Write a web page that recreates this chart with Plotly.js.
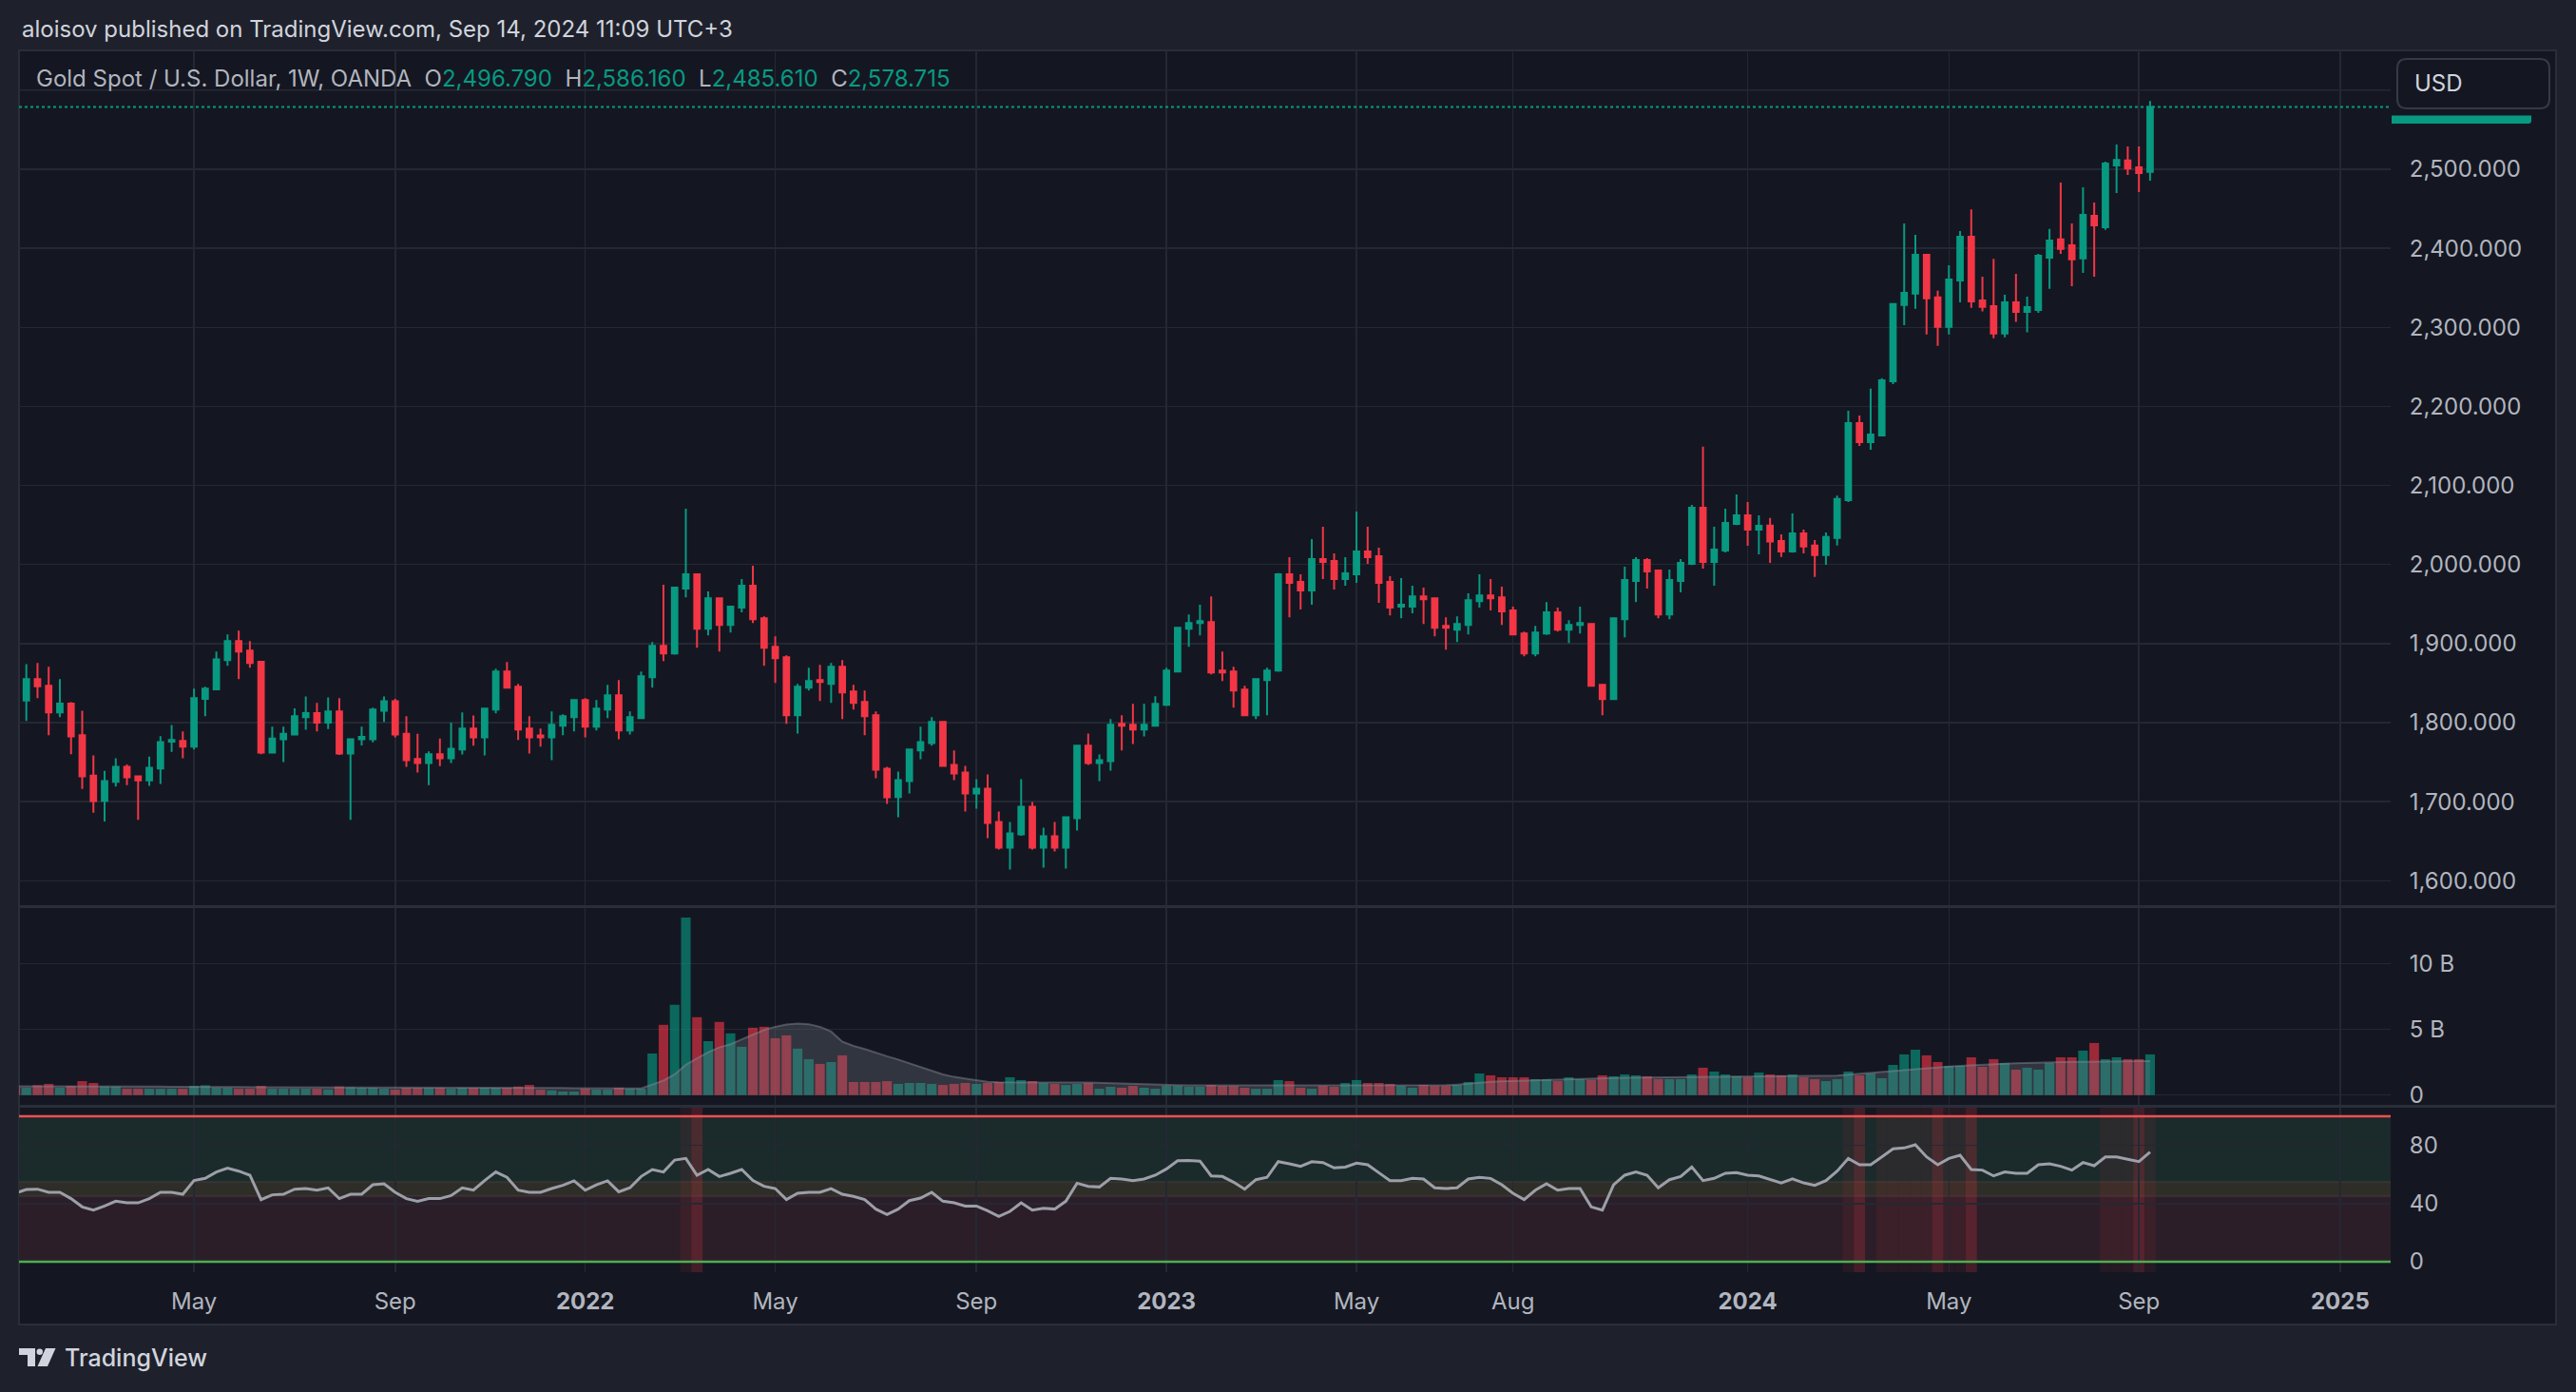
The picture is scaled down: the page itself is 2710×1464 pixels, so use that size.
<!DOCTYPE html>
<html>
<head>
<meta charset="utf-8">
<script src="https://cdn.plot.ly/plotly-3.0.1.min.js"></script>
<style>
html,body{margin:0;padding:0;background:#1e212c;overflow:hidden;}
#chart{width:2710px;height:1464px;}
</style>
</head>
<body>
<div id="chart"></div>
<script>
// ---------------- DATA (weekly OANDA XAUUSD, weeks starting 2021-01-11) ----------------
const firstWeek = '2021-01-11';

const open = [1849,
 1828,1855,1846.6,1813,1824,1784,1733,1701,1725,1744,
 1732,1727,1742,1776,1777,1769.5,1830,1842,1879,1903,
 1891,1877,1762,1779,1785,1807,1812,1800,1814,1761,
 1779,1779,1815,1827,1786,1754,1749,1760,1755,1766,
 1792.4,1781.5,1816.5,1864.7,1845.4,1792.4,1783.9,1781.5,1796,1806.8,
 1828.5,1794.8,1816.5,1834.5,1790,1805.6,1857.4,1897.2,1887.6,1969.5,
 1987.5,1918.9,1957.4,1923.7,1945.4,1973.1,1932.1,1896,1882.7,1809.2,
 1844.2,1853.8,1849,1870.7,1839.4,1826.1,1809.2,1741.8,1706,1726.1,
 1764.7,1774.3,1800.8,1746.6,1736.9,1710.4,1716.5,1674.3,1641.8,1658.6,
 1693.6,1641.8,1656.2,1641.8,1679.1,1770.7,1749,1751.4,1798.4,1797.2,
 1791.2,1796,1822.5,1864.7,1918.9,1926.1,1927.3,1865.9,1864.7,1841.8,
 1809.2,1853.8,1865.9,1987.5,1977.9,1967.1,2006.8,2004.4,1981.5,1987.6,
 2016.5,2010.4,1977.9,1946.6,1946.6,1959.8,1957.4,1922.5,1917.7,1923.7,
 1953.8,1961,1958.6,1941.8,1912.8,1887.6,1912.8,1939.4,1917.7,1923.7,
 1924.9,1847.8,1829.7,1930.9,1979.1,2005.6,1992.4,1936.9,1979.1,2000.8,
 2071.9,2003.2,2017.7,2051.4,2062.2,2044.2,2049.2,2029.8,2016.5,2039.3,
 2024,2012,2033.5,2081.5,2178.9,2154.8,2163.1,2231.9,2328.4,2342.8,
 2391.7,2337.9,2300.6,2359.4,2414.5,2334.1,2326.7,2292.3,2331.7,2319.7,
 2322.1,2388,2411.2,2403.7,2387.2,2441,2426.5,2504.8,2511,2502.3,
 2496.79];

const high = [1864,
 1874,1875.5,1870.7,1855,1826,1815,1758.6,1739,1755,1747,
 1732,1757,1783,1797,1789,1843,1845.5,1890,1911.6,1916.5,
 1903,1878,1795,1795,1818,1833,1825,1832,1831,1780,
 1795,1819,1833,1830,1808,1786,1763.5,1780,1800,1812.9,
 1809,1818,1868.3,1876.7,1849,1808,1792.4,1814,1810.4,1829.7,
 1830.9,1828.5,1847.8,1853.8,1814,1864.7,1902,1974.3,1972,2070.7,
 1988,1965.9,1958,1947.8,1981.5,1998.4,1934.5,1909.2,1885.1,1849,
 1869.5,1873.1,1875.5,1879.1,1847.8,1840.6,1814,1744.2,1738.2,1767.1,
 1794.8,1806.8,1802,1764.7,1745.4,1728.5,1734.5,1687.6,1674.3,1728.5,
 1699.6,1667.1,1674.3,1681,1771.9,1786.3,1759.8,1804.4,1809.2,1823.7,
 1823.7,1833.3,1869.5,1921.3,1936.9,1949,1959.8,1890,1870.7,1846.6,
 1856.2,1869.5,1989,2009.2,1987.5,2032.1,2047.8,2014.1,2009.2,2067.1,
 2047.8,2021.3,1985.1,1982.7,1973.1,1970.7,1958.6,1933.3,1934.5,1963.5,
 1987.6,1981.5,1971.9,1946.6,1915.3,1922.5,1952.6,1945.4,1929.7,1946.6,
 1926.1,1848.5,1933,1997.2,2009.2,2008,1993,1993.6,2006.8,2075.5,
 2149,2047.8,2070.7,2088.8,2079.1,2062.2,2058.8,2038.1,2064.6,2044.3,
 2031,2040.6,2087.3,2194.6,2188.4,2222.3,2235.6,2330.8,2431.5,2417,
 2393,2346.2,2378.5,2421.9,2449.3,2364,2386.7,2341.2,2367.7,2338.7,
 2392.9,2424.4,2483.2,2431.5,2477,2458,2509.7,2531.3,2528.8,2528.8,
 2586.16];

const low = [1808,
 1802,1831,1784,1807,1760,1716,1686,1675,1719,1721,
 1677,1720,1722.5,1763,1755,1766,1808,1841,1872,1855,
 1869.5,1760,1761,1750,1784,1791,1789,1792,1759,1677,
 1771,1775,1801,1781.5,1744,1737,1721,1745,1749,1759.8,
 1770.7,1758.6,1811.7,1843,1778,1761,1769.5,1752.6,1784,1788.8,
 1781.5,1790,1805.6,1779,1785,1805,1844.2,1877.9,1886,1958.6,
 1894.8,1910.4,1890,1914,1939.4,1926.1,1871.9,1850.2,1798.4,1786.3,
 1840.6,1827.3,1824.9,1804.4,1816.5,1784,1729.7,1697.2,1680.3,1710.4,
 1753.8,1770.7,1744,1727.3,1687.6,1691.2,1653.8,1639.4,1614.1,1657,
 1639.4,1616.5,1637,1615.3,1663.5,1746.6,1726.1,1739.4,1764.7,1773.1,
 1782.7,1795,1821,1864,1896,1910.4,1861,1852.6,1818.9,1808,
 1804.4,1809.2,1864.5,1933.3,1943,1949,1981.5,1968.3,1973.1,1976.7,
 2000.8,1951.4,1935.7,1932.1,1938.2,1924.9,1909.2,1892.4,1902,1911.6,
 1945.4,1941.8,1923.7,1910.4,1884,1884,1911,1915.3,1900.8,1912.8,
 1845.4,1809.2,1828.5,1908,1952.6,1969.5,1932.1,1930.9,1964.7,1999.5,
 1994.8,1973.1,2015.3,2050,2023.7,2012.9,2002,2009.5,2015,2014,
 1984.2,1999.6,2024,2079,2149.9,2145.3,2162,2228.1,2302.7,2323.4,
 2291,2276.6,2291,2331.7,2324.6,2320.1,2286.1,2287.4,2306.8,2293.6,
 2318.4,2348.6,2392.9,2351.9,2368.9,2364,2423.2,2469.9,2492.7,2471.2,
 2485.61];

const close = [1828,
 1855,1846,1812.8,1824,1782.7,1732,1700.8,1726,1744,1731,
 1727,1743,1775.5,1778,1769.5,1831,1843,1880,1903,1890,
 1875.5,1762,1780,1786,1808,1812,1800,1814,1761,1779,
 1782,1816.5,1827,1785,1752.6,1749,1760,1755,1767,1792.4,
 1781.5,1817.7,1864.7,1844.2,1791.2,1781.5,1781.5,1797.2,1808,1828.5,
 1794.8,1817.7,1834.5,1790,1806.8,1858.6,1897.2,1887.6,1970.7,1987.5,
 1918.9,1957.4,1923.7,1946.6,1973.1,1930.9,1894.8,1881.5,1809.2,1845.4,
 1852.6,1851.4,1870.7,1838.2,1824.9,1808,1740.6,1705.6,1727.3,1765.9,
 1775.5,1800.8,1745.4,1735.7,1710.4,1716.5,1673.1,1641.8,1659.8,1693.6,
 1641.8,1656.2,1641.8,1680.3,1770.7,1749,1752.6,1797.2,1796,1791.2,
 1797.2,1823.7,1865.9,1920.1,1926.1,1928.5,1863.5,1863.5,1840.6,1809.2,
 1855,1865.9,1987.5,1976.7,1967.1,2006.8,2003.2,1981.5,1988.8,2016.5,
 2009.2,1976.7,1945.4,1949,1959.8,1956.2,1920.1,1920.1,1924.9,1955,
 1961,1957.4,1940.6,1911.6,1887.6,1914.1,1939.4,1917.7,1923.7,1926.1,
 1846.6,1829.7,1932.1,1980.3,2005.6,1991.2,1936.9,1980.3,2002,2071.9,
 2003.2,2018.9,2052.6,2062.2,2044.2,2049,2029,2016.5,2039.3,2022.8,
 2012,2034.8,2082.8,2178.9,2154.8,2164.4,2233.1,2329.6,2343.7,2391.7,
 2336.6,2300.6,2360.6,2414.5,2332.9,2325.9,2292.3,2331.7,2319.7,2325.5,
 2390.5,2409.9,2399.2,2385.9,2442.2,2429,2507.2,2511.8,2501,2495.2,
 2578.715];

// volume, billions
const volume = [0.6,
 0.56,0.75,0.85,0.56,0.7,1.06,0.92,0.65,0.65,0.48,
 0.48,0.48,0.48,0.48,0.48,0.7,0.75,0.56,0.56,0.48,
 0.48,0.7,0.48,0.48,0.48,0.48,0.48,0.43,0.65,0.6,
 0.56,0.56,0.48,0.41,0.56,0.56,0.56,0.56,0.48,0.56,
 0.56,0.56,0.56,0.56,0.65,0.77,0.41,0.36,0.27,0.27,
 0.48,0.41,0.41,0.56,0.48,0.48,3.16,5.34,6.86,13.5,
 5.92,4.1,5.56,4.69,3.67,5.12,5.19,4.32,4.54,3.53,
 2.73,2.37,2.51,3.02,0.99,0.99,0.99,1.06,0.85,0.92,
 0.92,0.85,0.77,0.85,0.92,0.85,0.92,0.99,1.35,1.14,
 1.06,0.92,0.85,0.77,0.85,0.92,0.48,0.63,0.56,0.7,
 0.56,0.48,0.7,0.7,0.63,0.63,0.77,0.7,0.7,0.56,
 0.48,0.48,1.14,1.06,0.56,0.48,0.7,0.63,0.92,1.14,
 0.92,0.92,0.85,0.7,0.56,0.77,0.7,0.7,0.77,0.99,
 1.64,1.5,1.35,1.35,1.35,1.21,1.21,1.06,1.35,1.21,
 1.16,1.5,1.43,1.57,1.5,1.43,1.21,1.21,1.21,1.57,
 2.08,1.79,1.57,1.43,1.35,1.71,1.57,1.5,1.57,1.35,
 1.21,1.06,1.21,1.79,1.5,1.64,1.28,2.29,3.09,3.45,
 3.02,2.51,2.22,2.22,2.87,2.15,2.73,2.44,1.93,2.08,
 1.93,2.44,2.87,2.87,3.38,3.96,2.73,2.87,2.73,2.73,
 3.09];

// volume moving-average area
const volumeMA = [0.66,
 0.66,0.67,0.68,0.68,0.68,0.69,0.69,0.68,0.68,0.67,
 0.66,0.65,0.64,0.63,0.62,0.62,0.62,0.61,0.61,0.6,
 0.6,0.6,0.6,0.59,0.59,0.58,0.58,0.58,0.58,0.58,
 0.57,0.57,0.57,0.56,0.56,0.56,0.56,0.56,0.56,0.56,
 0.56,0.56,0.56,0.56,0.57,0.58,0.57,0.56,0.54,0.52,
 0.52,0.51,0.5,0.5,0.5,0.5,0.8,1.1,1.57,2.3,
 2.78,3.26,3.62,3.86,4.23,4.6,4.95,5.19,5.36,5.43,
 5.39,5.19,4.83,4.06,3.74,3.5,3.21,2.95,2.7,2.42,
 2.13,1.86,1.57,1.38,1.26,1.14,1.01,0.97,0.96,0.96,
 0.95,0.95,0.95,0.95,0.95,0.95,0.92,0.88,0.85,0.82,
 0.8,0.78,0.76,0.75,0.74,0.74,0.73,0.73,0.72,0.72,
 0.72,0.72,0.73,0.74,0.74,0.74,0.74,0.74,0.75,0.76,
 0.76,0.76,0.76,0.75,0.75,0.75,0.75,0.75,0.8,0.88,
 0.95,1.0,1.05,1.08,1.1,1.12,1.15,1.18,1.2,1.25,
 1.27,1.29,1.3,1.32,1.33,1.34,1.35,1.35,1.36,1.37,
 1.38,1.4,1.41,1.42,1.43,1.44,1.45,1.45,1.46,1.46,
 1.46,1.46,1.47,1.55,1.62,1.7,1.78,1.85,1.93,2.0,
 2.06,2.12,2.17,2.22,2.27,2.31,2.35,2.38,2.41,2.44,
 2.46,2.48,2.5,2.52,2.53,2.55,2.56,2.57,2.57,2.58,
 2.58];

const rsi = [47,
 49.7,49.9,47.7,47.7,43.4,37.7,35.5,38.3,41.6,40.5,
 40.5,43.4,47.7,47.7,46.4,55.8,57.3,61.7,64.3,62.3,
 59.5,42.7,46.0,46.4,49.9,50.3,49.2,50.8,43.4,46.4,
 46.4,52.9,53.6,47.7,43.4,41.6,43.4,43.4,45.5,50.8,
 49.2,55.8,61.7,58.0,49.2,47.7,47.7,50.3,52.5,55.6,
 49.2,52.9,55.6,48.1,50.8,58.6,63.4,61.7,69.9,71.0,
 59.5,63.4,58.6,60.8,63.4,55.8,51.9,50.3,42.7,47.1,
 47.7,47.7,50.3,46.4,44.9,42.7,36.2,32.5,36.2,42.0,
 43.8,47.7,41.6,40.5,38.3,38.3,35.1,31.2,34.6,40.5,
 35.5,36.8,36.2,41.6,54.0,51.8,51.4,57.3,56.9,55.8,
 56.9,59.5,63.8,69.5,69.6,69.2,59.0,58.6,54.7,49.9,
 56.4,58.0,68.8,67.3,65.6,68.8,68.2,64.5,65.1,67.8,
 66.7,61.2,55.8,55.8,57.3,56.9,50.8,50.3,50.8,56.9,
 58.0,57.3,52.9,47.1,42.7,49.2,53.6,49.2,50.3,50.3,
 37.7,35.5,52.9,59.5,61.7,59.5,50.8,56.4,58.6,65.1,
 55.8,57.3,60.8,61.2,59.5,59.0,56.4,54.2,56.9,54.2,
 52.5,55.8,62.3,71.0,66.7,66.7,72.1,77.6,78.2,80.4,
 72.1,66.7,71.0,73.2,63.4,63.0,59.0,61.7,60.8,60.8,
 66.7,67.3,65.6,63.0,68.2,66.0,72.1,72.1,70.4,68.8,
 75.4];

// RSI highlight weeks (overbought weeks, and weeks where RSI fell back under 70)
const overboughtWeeks = ['2022-03-07','2024-03-04','2024-03-25','2024-04-01','2024-04-08',
  '2024-04-15','2024-04-22','2024-05-06','2024-05-13','2024-08-12','2024-08-19','2024-08-26','2024-09-09'];
const exitWeeks = ['2022-03-14','2024-03-11','2024-04-29','2024-05-20','2024-09-02'];

// time-axis labels
const tickDates = ['2021-05-03','2021-09-06','2022-01-03','2022-05-02','2022-09-05','2023-01-02',
  '2023-05-01','2023-08-07','2024-01-01','2024-05-06','2024-09-02','2025-01-06'];
const tickLabels = ['May','Sep','<b>2022</b>','May','Sep','<b>2023</b>','May','Aug','<b>2024</b>','May','Sep','<b>2025</b>'];

// labelled price levels; the 2,600 level only shows its grid line (its label sits under the USD box)
const priceTicks = [1600,1700,1800,1900,2000,2100,2200,2300,2400,2500];
const priceGridOnly = [2600];
const volumeTicks = [0,5,10];
const volumeTickLabels = ['0','5 B','10 B'];
const rsiTicks = [0,40,80];

const headerText = 'aloisov published on TradingView.com, Sep 14, 2024 11:09 UTC+3';
const symbolText = 'Gold Spot / U.S. Dollar, 1W, OANDA';

// ---------------- BUILD ----------------
const W = 2710, H = 1464;
const px = x => x / W;
const py = y => 1 - y / H;
const DAY = 864e5;
const t0 = Date.parse(firstWeek + 'T00:00:00Z');
const dates = open.map((_, i) => new Date(t0 + i * 7 * DAY).toISOString().slice(0, 10));
const fmtDate = ms => new Date(ms).toISOString().replace('T', ' ').slice(0, 19);

const UP = '#089981', DOWN = '#f23645';
const GRID = '#242833';
const TXT = '#b2b5be';
const FONT = 'Inter, "Noto Sans", Roboto, sans-serif';

const volColors = close.map((c, i) => c >= open[i] ? 'rgba(8,153,129,0.62)' : 'rgba(242,54,69,0.62)');

const traces = [
  {
    type: 'bar', x: dates, y: volume, xaxis: 'x', yaxis: 'y2',
    marker: {color: volColors, line: {width: 0}}, hoverinfo: 'skip'
  },
  {
    type: 'scatter', mode: 'lines', x: dates, y: volumeMA, xaxis: 'x', yaxis: 'y2',
    fill: 'tozeroy', fillcolor: 'rgba(120,123,134,0.30)',
    line: {color: 'rgba(140,143,155,0.45)', width: 2}, hoverinfo: 'skip'
  },
  {
    type: 'candlestick', x: dates, open: open, high: high, low: low, close: close,
    xaxis: 'x', yaxis: 'y',
    increasing: {line: {color: UP, width: 2}, fillcolor: UP},
    decreasing: {line: {color: DOWN, width: 2}, fillcolor: DOWN},
    whiskerwidth: 0, hoverinfo: 'skip'
  },
  {
    type: 'scatter', mode: 'lines', x: dates, y: rsi, xaxis: 'x', yaxis: 'y3',
    line: {color: '#9c9fa8', width: 3}, hoverinfo: 'skip'
  }
];

const shapes = [];
// chart frame / background
shapes.push({type: 'rect', xref: 'paper', yref: 'paper', x0: px(20), x1: px(2689), y0: py(1393), y1: py(53),
  fillcolor: '#141722', line: {color: '#2a2e39', width: 2}, layer: 'below'});
// grid line for the unlabelled top price level
priceGridOnly.forEach(v => shapes.push({type: 'line', xref: 'x domain', yref: 'y', x0: 0, x1: 1, y0: v, y1: v,
  line: {color: GRID, width: 1.5}, layer: 'below'}));
// RSI zone tints
const zone = (a, b, col) => ({type: 'rect', xref: 'x domain', yref: 'y3', x0: 0, x1: 1, y0: a, y1: b,
  fillcolor: col, line: {width: 0}, layer: 'below'});
shapes.push(zone(55, 100, '#1b2a2b'));
shapes.push(zone(45, 55, '#2f2d27'));
shapes.push(zone(0, 45, '#2c1e28'));
[45, 55].forEach(v => shapes.push({type: 'line', xref: 'x domain', yref: 'y3', x0: 0, x1: 1, y0: v, y1: v,
  line: {color: 'rgba(255,255,255,0.06)', width: 2}, layer: 'below'}));
// RSI signal columns
const band = (d, col) => {
  const t = Date.parse(d + 'T00:00:00Z');
  return {type: 'rect', xref: 'x', yref: 'y3 domain', x0: fmtDate(t - 3.5 * DAY), x1: fmtDate(t + 3.5 * DAY),
    y0: 0, y1: 1, fillcolor: col, line: {width: 0}, layer: 'below'};
};
overboughtWeeks.forEach(d => shapes.push(band(d, 'rgba(242,54,69,0.08)')));
exitWeeks.forEach(d => shapes.push(band(d, 'rgba(242,54,69,0.22)')));
// RSI bounds
shapes.push({type: 'line', xref: 'x domain', yref: 'y3', x0: 0, x1: 1, y0: 100, y1: 100,
  line: {color: '#f0504f', width: 2.5}, layer: 'above'});
shapes.push({type: 'line', xref: 'x domain', yref: 'y3', x0: 0, x1: 1, y0: 0, y1: 0,
  line: {color: '#4caf50', width: 2.5}, layer: 'above'});
// pane separators
[953.5, 1163.5].forEach(y => shapes.push({type: 'line', xref: 'paper', yref: 'paper', x0: px(21), x1: px(2688),
  y0: py(y), y1: py(y), line: {color: '#2a2e39', width: 3}, layer: 'below'}));
// last price dotted line
const last = close.length - 1;
shapes.push({type: 'line', xref: 'x domain', yref: 'y', x0: 0, x1: 1, y0: close[last], y1: close[last],
  line: {color: UP, width: 2, dash: 'dot'}, layer: 'above'});
// visible part of the last price label
shapes.push({type: 'path', xref: 'paper', yref: 'paper',
  path: `M${px(2516)},${py(121.5)} L${px(2663)},${py(121.5)} L${px(2663)},${py(127)} Q${px(2663)},${py(130)} ${px(2660)},${py(130)} L${px(2516)},${py(130)} Z`,
  fillcolor: UP, line: {width: 0}, layer: 'above'});
// USD box (rounded)
(function () {
  const x0 = 2522, x1 = 2682, y0 = 62, y1 = 114, r = 10;
  const p = `M${px(x0 + r)},${py(y0)} L${px(x1 - r)},${py(y0)} Q${px(x1)},${py(y0)} ${px(x1)},${py(y0 + r)} ` +
    `L${px(x1)},${py(y1 - r)} Q${px(x1)},${py(y1)} ${px(x1 - r)},${py(y1)} L${px(x0 + r)},${py(y1)} ` +
    `Q${px(x0)},${py(y1)} ${px(x0)},${py(y1 - r)} L${px(x0)},${py(y0 + r)} Q${px(x0)},${py(y0)} ${px(x0 + r)},${py(y0)} Z`;
  shapes.push({type: 'path', xref: 'paper', yref: 'paper', path: p, fillcolor: '#141722',
    line: {color: '#363a45', width: 2}, layer: 'above'});
})();
// TradingView logo mark
shapes.push({type: 'path', xref: 'paper', yref: 'paper',
  path: `M${px(20)},${py(1418)} L${px(37)},${py(1418)} L${px(37)},${py(1437)} L${px(29)},${py(1437)} L${px(29)},${py(1425)} L${px(20)},${py(1425)} Z`,
  fillcolor: '#d1d4dc', line: {width: 0}, layer: 'above'});
shapes.push({type: 'circle', xref: 'paper', yref: 'paper', x0: px(38.5), x1: px(45), y0: py(1425), y1: py(1418.5),
  fillcolor: '#d1d4dc', line: {width: 0}, layer: 'above'});
shapes.push({type: 'path', xref: 'paper', yref: 'paper',
  path: `M${px(48)},${py(1418)} L${px(58.5)},${py(1418)} L${px(50)},${py(1437)} L${px(39.5)},${py(1437)} Z`,
  fillcolor: '#d1d4dc', line: {width: 0}, layer: 'above'});

const fmt3 = v => v.toLocaleString('en-US', {minimumFractionDigits: 3, maximumFractionDigits: 3});
const val = v => `<span style="color:${UP}">${fmt3(v)}</span>`;
const sp = '\u00a0\u00a0';
const legendText = `${symbolText}${sp}O${val(open[last])}${sp}H${val(high[last])}${sp}L${val(low[last])}${sp}C${val(close[last])}`;

const annotations = [
  {xref: 'paper', yref: 'paper', x: px(21), y: py(31), xanchor: 'left', yanchor: 'middle', showarrow: false,
    text: headerText, font: {family: FONT, size: 24, color: '#d1d4dc'}},
  {xref: 'paper', yref: 'paper', x: px(36), y: py(82), xanchor: 'left', yanchor: 'middle', showarrow: false,
    text: legendText, font: {family: FONT, size: 24, color: TXT}},
  {xref: 'paper', yref: 'paper', x: px(2538), y: py(88), xanchor: 'left', yanchor: 'middle', showarrow: false,
    text: 'USD', font: {family: FONT, size: 24, color: '#d1d4dc'}},
  {xref: 'paper', yref: 'paper', x: px(66), y: py(1428), xanchor: 'left', yanchor: 'middle', showarrow: false,
    text: 'TradingView', font: {family: FONT, size: 25, color: '#d1d4dc', weight: 500}}
];

const yCommon = {
  side: 'right', anchor: 'x', showgrid: true, gridcolor: GRID, gridwidth: 1.5, zeroline: false, showline: false,
  ticks: 'outside', ticklen: 14, tickcolor: 'rgba(0,0,0,0)', tickfont: {family: FONT, size: 24, color: TXT},
  fixedrange: true
};

const layout = {
  width: W, height: H,
  margin: {l: 0, r: 0, t: 0, b: 0, pad: 0},
  paper_bgcolor: '#1e212c', plot_bgcolor: '#141722',
  showlegend: false, dragmode: false, hovermode: false,
  bargap: 0.14, boxgap: 0.3,
  font: {family: FONT, color: TXT},
  xaxis: {
    type: 'date', domain: [px(20), px(2515)], anchor: 'y3',
    range: [fmtDate(t0 + 2.415 * DAY), fmtDate(t0 + (212.52 * 7) * DAY)],
    tickmode: 'array', tickvals: tickDates, ticktext: tickLabels,
    tickfont: {family: FONT, size: 24, color: TXT},
    ticks: 'outside', ticklen: 9, tickcolor: 'rgba(0,0,0,0)',
    showgrid: true, gridcolor: GRID, gridwidth: 1.5, zeroline: false, showline: false,
    rangeslider: {visible: false}, fixedrange: true
  },
  yaxis: Object.assign({}, yCommon, {
    domain: [py(952), py(53)], range: [1569.1, 2650.3],
    tickmode: 'array', tickvals: priceTicks, tickformat: ',.3f'
  }),
  yaxis2: Object.assign({}, yCommon, {
    domain: [py(1162), py(955)], range: [-0.745, 14.22],
    tickmode: 'array', tickvals: volumeTicks, ticktext: volumeTickLabels
  }),
  yaxis3: Object.assign({}, yCommon, {
    domain: [py(1338), py(1165)], range: [-7.2, 105.9], showgrid: true,
    tickmode: 'array', tickvals: rsiTicks
  }),
  shapes: shapes,
  annotations: annotations
};

Plotly.newPlot('chart', traces, layout, {displayModeBar: false, staticPlot: true, responsive: false});
</script>
</body>
</html>
